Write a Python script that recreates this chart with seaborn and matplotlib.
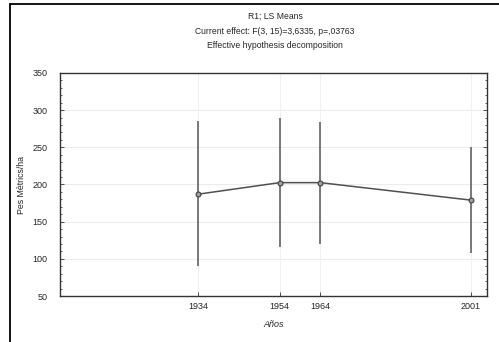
import matplotlib
matplotlib.use("Agg")
import matplotlib.pyplot as plt
import matplotlib.lines as mlines
from matplotlib.ticker import MultipleLocator
import seaborn as sns
import pandas as pd

# LS means por año, con sus intervalos de confianza
years = [1934, 1954, 1964, 2001]
means = [187, 202.5, 202.5, 179]
lower = [91, 115.5, 120, 108]
upper = [286, 290, 284.5, 251]

title_lines = ["R1; LS Means",
               "Current effect: F(3, 15)=3,6335, p=,03763",
               "Effective hypothesis decomposition"]

sns.set_style("white")
plt.rcParams['font.family'] = ['Liberation Sans', 'DejaVu Sans']

df = pd.DataFrame({'Años': years, 'mean': means})

fig = plt.figure(figsize=(4.99, 3.42), dpi=100)
ax = fig.add_axes([60 / 499, 1 - 296 / 342, 427 / 499, 223 / 342])

# grid
ax.set_axisbelow(True)
for v in [100, 150, 200, 250, 300]:
    ax.axhline(v, color='#ececec', lw=0.8, zorder=0)
for y in years:
    ax.axvline(y, color='#f0f0f0', lw=0.8, zorder=0)

ax.vlines(years, lower, upper, color='#555555', lw=1.1, zorder=2)
sns.lineplot(data=df, x='Años', y='mean', ax=ax, color='#505050', lw=1.1,
             marker='o', markersize=3.5, markerfacecolor='#a0a0a0',
             markeredgecolor='#404040', markeredgewidth=0.8, zorder=3)

ax.set_xlim(1900, 2005)
ax.set_ylim(50, 350)
ax.set_xticks(years)
ax.set_yticks([50, 100, 150, 200, 250, 300, 350])
ax.yaxis.set_minor_locator(MultipleLocator(10))
ax.tick_params(axis='both', which='major', labelsize=6.5, direction='in',
               length=3, width=0.6, color='#333333', right=True, bottom=True,
               left=True)
ax.tick_params(axis='y', which='major', pad=9)
ax.tick_params(axis='x', which='major', pad=4)
ax.tick_params(axis='y', which='minor', direction='in', length=1.5,
               width=0.5, left=True, right=True)
for s in ax.spines.values():
    s.set_color('#333333')
    s.set_linewidth(1.0)

ax.set_xlabel('Años', fontsize=6.5, style='italic', labelpad=7)
ax.set_ylabel('Pes Mètrics/ha', fontsize=6.3, labelpad=5)

for i, t in enumerate(title_lines):
    fig.text(275 / 499, 1 - (16 + 15 * i) / 342, t, ha='center', va='center',
             fontsize=6.2)

# marco exterior
fig.add_artist(mlines.Line2D([10 / 499, 10 / 499], [0, 1 - 4 / 342],
                             color='black', lw=1.3))
fig.add_artist(mlines.Line2D([10 / 499, 1], [1 - 4 / 342, 1 - 4 / 342],
                             color='black', lw=1.3))

plt.savefig('out.png', dpi=100, facecolor='white')
